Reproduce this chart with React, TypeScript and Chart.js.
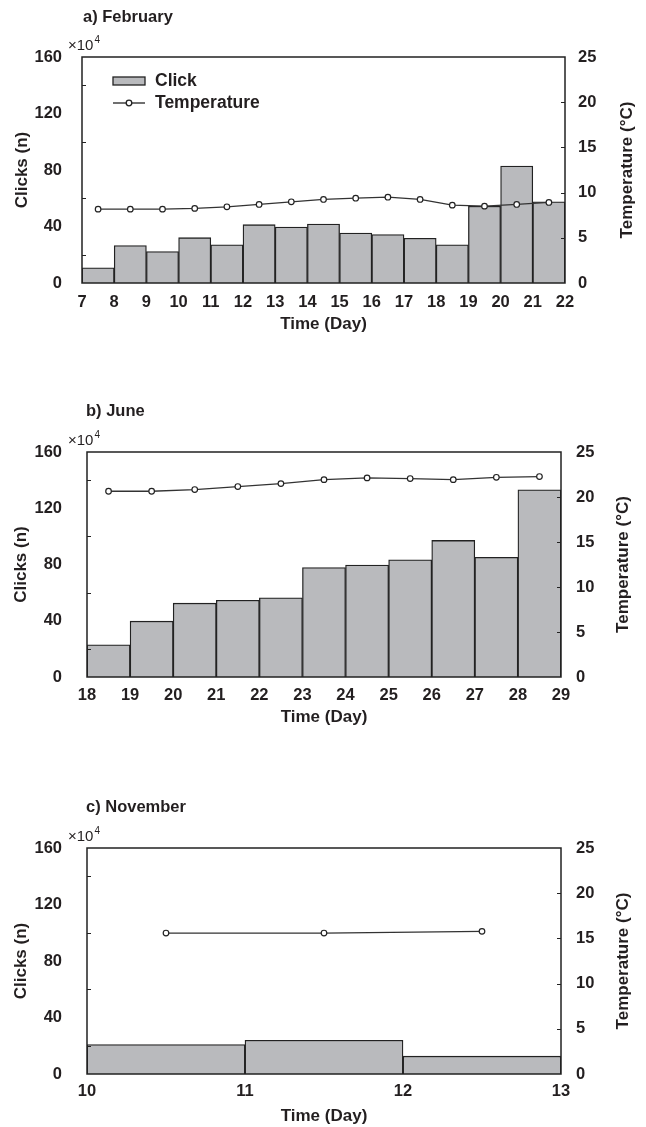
import React, { useEffect, useRef } from "react";
import { Chart, registerables } from "chart.js";

Chart.register(...registerables);

// ---------- data ----------
const febDays = [7, 8, 9, 10, 11, 12, 13, 14, 15, 16, 17, 18, 19, 20, 21];
const febClicks = [10.8, 26.5, 22.3, 32.1, 27.0, 41.3, 39.6, 41.8, 35.4, 34.3, 31.7, 27.0, 54.4, 82.8, 57.5];
const febTemp = [8.17, 8.17, 8.17, 8.25, 8.43, 8.69, 8.98, 9.24, 9.38, 9.49, 9.24, 8.61, 8.5, 8.69, 8.91];
const febTicks = [7, 8, 9, 10, 11, 12, 13, 14, 15, 16, 17, 18, 19, 20, 21, 22];

const junDays = [18, 19, 20, 21, 22, 23, 24, 25, 26, 27, 28];
const junClicks = [22.9, 39.7, 52.5, 54.6, 56.3, 77.8, 79.6, 83.4, 97.1, 85.1, 133.1];
const junTemp = [20.64, 20.64, 20.83, 21.16, 21.49, 21.93, 22.12, 22.05, 21.93, 22.19, 22.27];
const junTicks = [18, 19, 20, 21, 22, 23, 24, 25, 26, 27, 28, 29];

const novDays = [10, 11, 12];
const novClicks = [20.9, 23.9, 12.6];
const novTemp = [15.59, 15.59, 15.78];
const novTicks = [10, 11, 12, 13];

const clickTicks = [0, 40, 80, 120, 160];
const clickMinorTicks = [20, 60, 100, 140];
const tempTicks = [0, 5, 10, 15, 20, 25];
const tempInnerTicks = [5, 10, 15, 20];

const FONT = "'Liberation Sans', Arial, Helvetica, sans-serif";
const INK = "#231f20";
const BAR_FILL = "#b9babd";

type PanelCfg = {
  top: number;
  height: number;
  plotLeft: number;
  plotRight: number;
  padTop: number;
  padBottom: number;
  xH: number;
  xPad: number;
  yPad: number;
  y2Pad: number;
  yTitlePad: number;
  y2TitleX: number;
  title: string;
  titleX: number;
  titleY: number;
  legend: boolean;
  days: number[];
  clicks: number[];
  temps: number[];
  ticks: number[];
};

const panels: PanelCfg[] = [
  {
    top: 0, height: 390, plotLeft: 82, plotRight: 565, padTop: 57, padBottom: 55, xH: 52,
    xPad: 10, yPad: 20, y2Pad: 13, yTitlePad: 12.5, y2TitleX: 627,
    title: "a) February", titleX: 83, titleY: 17, legend: true,
    days: febDays, clicks: febClicks, temps: febTemp, ticks: febTicks,
  },
  {
    top: 390, height: 395, plotLeft: 87, plotRight: 561, padTop: 62, padBottom: 57, xH: 51,
    xPad: 8.4, yPad: 25, y2Pad: 15, yTitlePad: 11.5, y2TitleX: 623,
    title: "b) June", titleX: 86, titleY: 21, legend: false,
    days: junDays, clicks: junClicks, temps: junTemp, ticks: junTicks,
  },
  {
    top: 785, height: 342, plotLeft: 87, plotRight: 561, padTop: 63, padBottom: 0, xH: 53,
    xPad: 8, yPad: 25, y2Pad: 15, yTitlePad: 11.5, y2TitleX: 623,
    title: "c) November", titleX: 86, titleY: 22, legend: false,
    days: novDays, clicks: novClicks, temps: novTemp, ticks: novTicks,
  },
];

const decorPlugin = {
  id: "decor",
  afterDraw(chart: any, _args: any, opts: any) {
    const { ctx, chartArea: a, scales } = chart;
    ctx.save();
    // frame
    ctx.strokeStyle = "#222";
    ctx.lineWidth = 1.5;
    ctx.strokeRect(a.left, a.top, a.right - a.left, a.bottom - a.top);
    // inward ticks
    ctx.lineWidth = 1.2;
    ctx.beginPath();
    clickMinorTicks.forEach((v) => {
      const y = Math.round(scales.y.getPixelForValue(v)) + 0.5;
      ctx.moveTo(a.left, y);
      ctx.lineTo(a.left + 4, y);
    });
    tempInnerTicks.forEach((v) => {
      const y = Math.round(scales.y2.getPixelForValue(v)) + 0.5;
      ctx.moveTo(a.right - 4, y);
      ctx.lineTo(a.right, y);
    });
    ctx.stroke();
    ctx.fillStyle = INK;
    ctx.textBaseline = "middle";
    // right axis title, reading bottom to top
    ctx.save();
    ctx.translate(opts.y2TitleX, (a.top + a.bottom) / 2);
    ctx.rotate(-Math.PI / 2);
    ctx.textAlign = "center";
    ctx.font = `bold 17px ${FONT}`;
    ctx.fillText("Temperature (°C)", 0, 0);
    ctx.restore();
    // panel title
    ctx.textAlign = "left";
    ctx.font = `bold 16.5px ${FONT}`;
    ctx.fillText(opts.title, opts.titleX, opts.titleY);
    // x10^4 multiplier
    ctx.font = `15px ${FONT}`;
    const mx = 68;
    const my = a.top - 11;
    ctx.fillText("×10", mx, my);
    const w = ctx.measureText("×10").width;
    ctx.font = `10px ${FONT}`;
    ctx.fillText("4", mx + w + 1, my - 6);
    // legend
    if (opts.legend) {
      ctx.fillStyle = BAR_FILL;
      ctx.fillRect(113, 77, 32, 8);
      ctx.strokeStyle = "#222";
      ctx.lineWidth = 1.3;
      ctx.strokeRect(113, 77, 32, 8);
      ctx.beginPath();
      ctx.moveTo(113, 103);
      ctx.lineTo(145, 103);
      ctx.stroke();
      ctx.beginPath();
      ctx.arc(129, 103, 2.8, 0, Math.PI * 2);
      ctx.fillStyle = "#fff";
      ctx.fill();
      ctx.stroke();
      ctx.fillStyle = INK;
      ctx.font = `bold 17.5px ${FONT}`;
      ctx.fillText("Click", 155, 81.5);
      ctx.fillText("Temperature", 155, 103);
    }
    ctx.restore();
  },
};

function Panel({ cfg }: { cfg: PanelCfg }) {
  const ref = useRef<HTMLCanvasElement>(null);
  useEffect(() => {
    if (!ref.current) return;
    const tickFont = { family: FONT, size: 16.5, weight: "bold" as const };
    const titleFont = { family: FONT, size: 17, weight: "bold" as const };
    const first = cfg.ticks[0];
    const last = cfg.ticks[cfg.ticks.length - 1];
    const chart = new Chart(ref.current, {
      type: "bar",
      data: {
        datasets: [
          {
            type: "line",
            label: "Temperature",
            data: cfg.days.map((d, i) => ({ x: d + 0.5, y: cfg.temps[i] })),
            yAxisID: "y2",
            xAxisID: "x",
            borderColor: "#333",
            borderWidth: 1.3,
            pointRadius: 2.8,
            pointBackgroundColor: "#fff",
            pointBorderColor: "#222",
            pointBorderWidth: 1.2,
            tension: 0,
            order: 0,
          } as any,
          {
            type: "bar",
            label: "Click",
            data: cfg.days.map((d, i) => ({ x: d + 0.5, y: cfg.clicks[i] })),
            yAxisID: "y",
            xAxisID: "x",
            backgroundColor: BAR_FILL,
            borderColor: "#222",
            borderWidth: 1.3,
            borderSkipped: "bottom",
            barPercentage: 1,
            categoryPercentage: 1,
            order: 1,
          } as any,
        ],
      },
      options: {
        animation: false,
        responsive: false,
        events: [],
        layout: { padding: { top: cfg.padTop, bottom: cfg.padBottom, left: 0, right: 0 } },
        plugins: {
          legend: { display: false },
          tooltip: { enabled: false },
          decor: { title: cfg.title, titleX: cfg.titleX, titleY: cfg.titleY, legend: cfg.legend, y2TitleX: cfg.y2TitleX },
        } as any,
        scales: {
          x: {
            type: "linear",
            min: first,
            max: last,
            offset: false,
            grid: { display: false, drawTicks: false, offset: false },
            border: { display: false },
            afterBuildTicks: (s: any) => {
              s.ticks = cfg.ticks.map((v) => ({ value: v }));
            },
            afterFit: (s: any) => {
              s.height = cfg.xH;
            },
            ticks: { font: tickFont, color: INK, padding: cfg.xPad, autoSkip: false, maxRotation: 0 },
            title: { display: true, text: "Time (Day)", font: titleFont, color: INK, padding: { top: 0, bottom: 0 } },
          },
          y: {
            type: "linear",
            position: "left",
            min: 0,
            max: 160,
            grid: { display: false, drawTicks: false },
            border: { display: false },
            afterBuildTicks: (s: any) => {
              s.ticks = clickTicks.map((v) => ({ value: v }));
            },
            afterFit: (s: any) => {
              s.width = cfg.plotLeft;
            },
            ticks: { font: tickFont, color: INK, padding: cfg.yPad },
            title: { display: true, text: "Clicks (n)", font: titleFont, color: INK, padding: { top: cfg.yTitlePad, bottom: 0 } },
          },
          y2: {
            type: "linear",
            position: "right",
            min: 0,
            max: 25,
            grid: { display: false, drawTicks: false },
            border: { display: false },
            afterBuildTicks: (s: any) => {
              s.ticks = tempTicks.map((v) => ({ value: v }));
            },
            afterFit: (s: any) => {
              s.width = 646 - cfg.plotRight;
            },
            ticks: { font: tickFont, color: INK, padding: cfg.y2Pad },
            title: { display: false },
          },
        } as any,
      },
      plugins: [decorPlugin],
    });
    return () => chart.destroy();
  }, [cfg]);
  return (
    <canvas
      ref={ref}
      width={646}
      height={cfg.height}
      style={{ position: "absolute", left: 0, top: cfg.top, width: 646, height: cfg.height, display: "block" }}
    />
  );
}

export default function App() {
  return (
    <div style={{ position: "absolute", left: 0, top: 0, width: 646, height: 1127, background: "#fff", overflow: "hidden" }}>
      {panels.map((p, i) => (
        <Panel key={i} cfg={p} />
      ))}
    </div>
  );
}
